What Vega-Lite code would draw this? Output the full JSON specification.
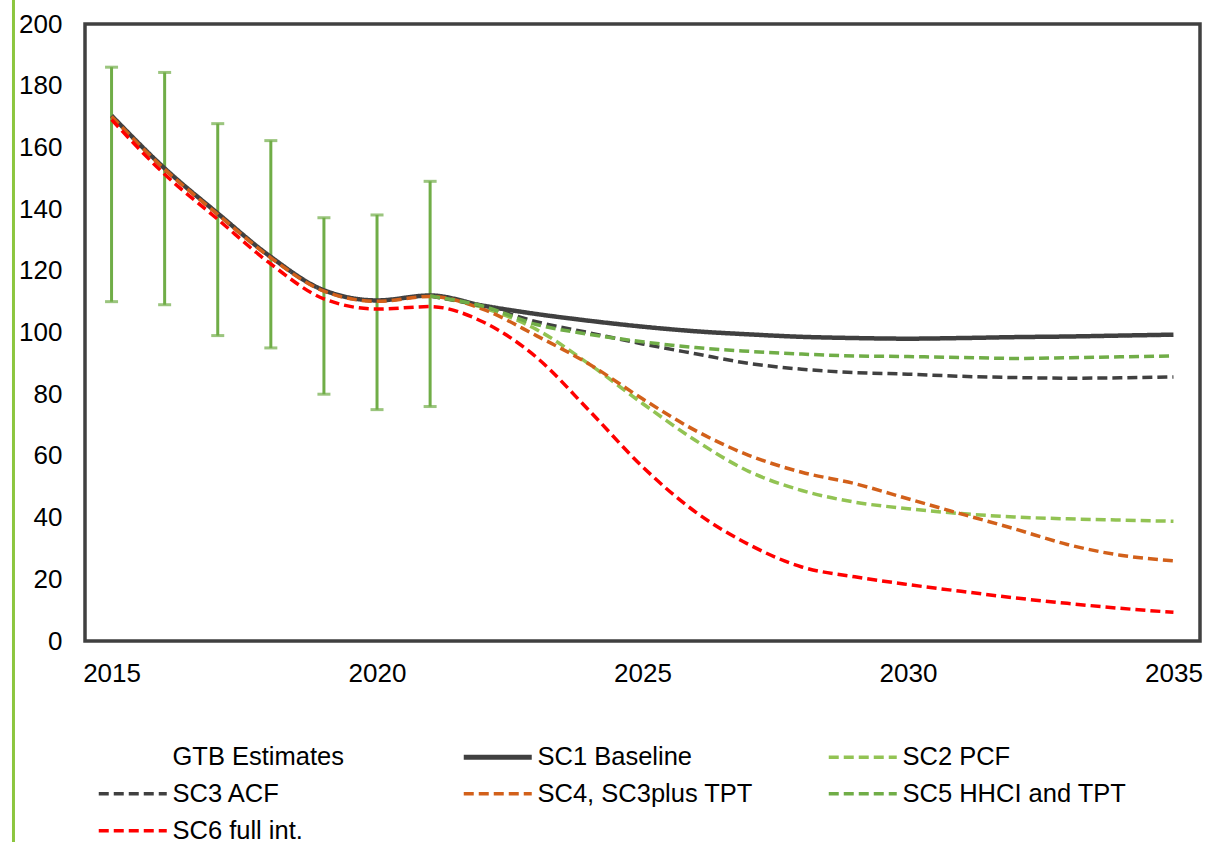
{
  "$schema": "https://vega.github.io/schema/vega-lite/v6.json",
  "width": 1115,
  "height": 617,
  "autosize": {"type": "none"},
  "padding": {"left": 85, "top": 24, "right": 8, "bottom": 201},
  "background": "white",
  "config": {
    "view": {"stroke": "#404040", "strokeWidth": 3.5},
    "font": "Liberation Sans",
    "axis": {"domain": false, "grid": false, "ticks": false, "tickSize": 0, "labelColor": "#000000", "labelFont": "Liberation Sans", "labelFontSize": 26}
  },
  "datasets": {
    "lines": [
      {"series": "SC1 Baseline", "year": 2015, "value": 170.3},
      {"series": "SC1 Baseline", "year": 2016, "value": 153.2},
      {"series": "SC1 Baseline", "year": 2017, "value": 138.6},
      {"series": "SC1 Baseline", "year": 2018, "value": 124.5},
      {"series": "SC1 Baseline", "year": 2019, "value": 113.7},
      {"series": "SC1 Baseline", "year": 2020, "value": 110.4},
      {"series": "SC1 Baseline", "year": 2021, "value": 112.0},
      {"series": "SC1 Baseline", "year": 2022, "value": 108.7},
      {"series": "SC1 Baseline", "year": 2023, "value": 106.0},
      {"series": "SC1 Baseline", "year": 2024, "value": 103.8},
      {"series": "SC1 Baseline", "year": 2025, "value": 101.9},
      {"series": "SC1 Baseline", "year": 2026, "value": 100.4},
      {"series": "SC1 Baseline", "year": 2027, "value": 99.4},
      {"series": "SC1 Baseline", "year": 2028, "value": 98.6},
      {"series": "SC1 Baseline", "year": 2029, "value": 98.2},
      {"series": "SC1 Baseline", "year": 2030, "value": 98.0},
      {"series": "SC1 Baseline", "year": 2031, "value": 98.2},
      {"series": "SC1 Baseline", "year": 2032, "value": 98.5},
      {"series": "SC1 Baseline", "year": 2033, "value": 98.7},
      {"series": "SC1 Baseline", "year": 2034, "value": 99.0},
      {"series": "SC1 Baseline", "year": 2035, "value": 99.3},
      {"series": "SC2 PCF", "year": 2021, "value": 111.8},
      {"series": "SC2 PCF", "year": 2022, "value": 108.0},
      {"series": "SC2 PCF", "year": 2023, "value": 101.0},
      {"series": "SC2 PCF", "year": 2024, "value": 89.7},
      {"series": "SC2 PCF", "year": 2025, "value": 77.0},
      {"series": "SC2 PCF", "year": 2026, "value": 65.0},
      {"series": "SC2 PCF", "year": 2027, "value": 55.0},
      {"series": "SC2 PCF", "year": 2028, "value": 48.8},
      {"series": "SC2 PCF", "year": 2029, "value": 45.0},
      {"series": "SC2 PCF", "year": 2030, "value": 42.9},
      {"series": "SC2 PCF", "year": 2031, "value": 41.3},
      {"series": "SC2 PCF", "year": 2032, "value": 40.2},
      {"series": "SC2 PCF", "year": 2033, "value": 39.6},
      {"series": "SC2 PCF", "year": 2034, "value": 39.2},
      {"series": "SC2 PCF", "year": 2035, "value": 38.8},
      {"series": "SC3 ACF", "year": 2021, "value": 111.8},
      {"series": "SC3 ACF", "year": 2022, "value": 108.5},
      {"series": "SC3 ACF", "year": 2023, "value": 103.5},
      {"series": "SC3 ACF", "year": 2024, "value": 99.9},
      {"series": "SC3 ACF", "year": 2025, "value": 96.3},
      {"series": "SC3 ACF", "year": 2026, "value": 93.1},
      {"series": "SC3 ACF", "year": 2027, "value": 90.0},
      {"series": "SC3 ACF", "year": 2028, "value": 88.1},
      {"series": "SC3 ACF", "year": 2029, "value": 87.0},
      {"series": "SC3 ACF", "year": 2030, "value": 86.5},
      {"series": "SC3 ACF", "year": 2031, "value": 85.8},
      {"series": "SC3 ACF", "year": 2032, "value": 85.4},
      {"series": "SC3 ACF", "year": 2033, "value": 85.2},
      {"series": "SC3 ACF", "year": 2034, "value": 85.3},
      {"series": "SC3 ACF", "year": 2035, "value": 85.6},
      {"series": "SC4, SC3plus TPT", "year": 2015, "value": 170.0},
      {"series": "SC4, SC3plus TPT", "year": 2016, "value": 152.9},
      {"series": "SC4, SC3plus TPT", "year": 2017, "value": 138.3},
      {"series": "SC4, SC3plus TPT", "year": 2018, "value": 124.2},
      {"series": "SC4, SC3plus TPT", "year": 2019, "value": 113.4},
      {"series": "SC4, SC3plus TPT", "year": 2020, "value": 110.1},
      {"series": "SC4, SC3plus TPT", "year": 2021, "value": 111.7},
      {"series": "SC4, SC3plus TPT", "year": 2022, "value": 107.5},
      {"series": "SC4, SC3plus TPT", "year": 2023, "value": 99.0},
      {"series": "SC4, SC3plus TPT", "year": 2024, "value": 89.7},
      {"series": "SC4, SC3plus TPT", "year": 2025, "value": 78.5},
      {"series": "SC4, SC3plus TPT", "year": 2026, "value": 68.2},
      {"series": "SC4, SC3plus TPT", "year": 2027, "value": 60.2},
      {"series": "SC4, SC3plus TPT", "year": 2028, "value": 54.7},
      {"series": "SC4, SC3plus TPT", "year": 2029, "value": 51.0},
      {"series": "SC4, SC3plus TPT", "year": 2030, "value": 46.1},
      {"series": "SC4, SC3plus TPT", "year": 2031, "value": 41.2},
      {"series": "SC4, SC3plus TPT", "year": 2032, "value": 36.4},
      {"series": "SC4, SC3plus TPT", "year": 2033, "value": 31.3},
      {"series": "SC4, SC3plus TPT", "year": 2034, "value": 27.8},
      {"series": "SC4, SC3plus TPT", "year": 2035, "value": 26.0},
      {"series": "SC5 HHCI and TPT", "year": 2021, "value": 111.8},
      {"series": "SC5 HHCI and TPT", "year": 2022, "value": 108.5},
      {"series": "SC5 HHCI and TPT", "year": 2023, "value": 102.6},
      {"series": "SC5 HHCI and TPT", "year": 2024, "value": 99.4},
      {"series": "SC5 HHCI and TPT", "year": 2025, "value": 97.0},
      {"series": "SC5 HHCI and TPT", "year": 2026, "value": 95.1},
      {"series": "SC5 HHCI and TPT", "year": 2027, "value": 93.9},
      {"series": "SC5 HHCI and TPT", "year": 2028, "value": 93.0},
      {"series": "SC5 HHCI and TPT", "year": 2029, "value": 92.4},
      {"series": "SC5 HHCI and TPT", "year": 2030, "value": 92.2},
      {"series": "SC5 HHCI and TPT", "year": 2031, "value": 91.9},
      {"series": "SC5 HHCI and TPT", "year": 2032, "value": 91.6},
      {"series": "SC5 HHCI and TPT", "year": 2033, "value": 91.8},
      {"series": "SC5 HHCI and TPT", "year": 2034, "value": 92.1},
      {"series": "SC5 HHCI and TPT", "year": 2035, "value": 92.4},
      {"series": "SC6 full int.", "year": 2015, "value": 169.0},
      {"series": "SC6 full int.", "year": 2016, "value": 151.3},
      {"series": "SC6 full int.", "year": 2017, "value": 136.7},
      {"series": "SC6 full int.", "year": 2018, "value": 122.2},
      {"series": "SC6 full int.", "year": 2019, "value": 110.9},
      {"series": "SC6 full int.", "year": 2020, "value": 107.6},
      {"series": "SC6 full int.", "year": 2021, "value": 108.4},
      {"series": "SC6 full int.", "year": 2022, "value": 103.4},
      {"series": "SC6 full int.", "year": 2023, "value": 92.0},
      {"series": "SC6 full int.", "year": 2024, "value": 74.6},
      {"series": "SC6 full int.", "year": 2025, "value": 56.5},
      {"series": "SC6 full int.", "year": 2026, "value": 41.8},
      {"series": "SC6 full int.", "year": 2027, "value": 31.3},
      {"series": "SC6 full int.", "year": 2028, "value": 24.0},
      {"series": "SC6 full int.", "year": 2029, "value": 20.8},
      {"series": "SC6 full int.", "year": 2030, "value": 18.3},
      {"series": "SC6 full int.", "year": 2031, "value": 16.1},
      {"series": "SC6 full int.", "year": 2032, "value": 14.0},
      {"series": "SC6 full int.", "year": 2033, "value": 12.2},
      {"series": "SC6 full int.", "year": 2034, "value": 10.6},
      {"series": "SC6 full int.", "year": 2035, "value": 9.3}
    ],
    "gtb": [
      {"year": 2015, "low": 110, "high": 186},
      {"year": 2016, "low": 109, "high": 184.3},
      {"year": 2017, "low": 99, "high": 167.7},
      {"year": 2018, "low": 95, "high": 162.2},
      {"year": 2019, "low": 80, "high": 137.2},
      {"year": 2020, "low": 75, "high": 138.1},
      {"year": 2021, "low": 76, "high": 149}
    ],
    "border": [{"edge": "page"}]
  },
  "layer": [
    {
      "data": {"name": "border"},
      "mark": {"type": "rule", "color": "#8CC63F", "strokeWidth": 3, "clip": false},
      "encoding": {
        "x": {"datum": 2013.153, "type": "quantitative", "scale": {"domain": [2014.5, 2035.5], "nice": false, "zero": false}, "title": null},
        "y": {"datum": 212, "type": "quantitative", "scale": {"domain": [0, 200], "nice": false}, "title": null},
        "y2": {"datum": -70}
      }
    },
    {
      "data": {"name": "gtb"},
      "mark": {"type": "errorbar", "color": "#70AD47", "ticks": {"size": 13, "thickness": 3, "color": "#70AD47"}, "rule": {"strokeWidth": 3, "color": "#70AD47"}},
      "encoding": {
        "x": {"field": "year", "type": "quantitative", "scale": {"domain": [2014.5, 2035.5], "nice": false, "zero": false}, "title": null},
        "y": {"field": "low", "type": "quantitative", "scale": {"domain": [0, 200], "nice": false}, "title": null},
        "y2": {"field": "high"}
      }
    },
    {
      "data": {"name": "lines"},
      "mark": {"type": "line", "interpolate": "monotone", "strokeCap": "butt"},
      "encoding": {
        "x": {"field": "year", "type": "quantitative", "scale": {"domain": [2014.5, 2035.5], "nice": false, "zero": false}, "title": null,
              "axis": {"values": [2015, 2020, 2025, 2030, 2035], "format": "d", "labelPadding": 19, "labelFlush": false, "title": null}},
        "y": {"field": "value", "type": "quantitative", "scale": {"domain": [0, 200], "nice": false}, "title": null,
              "axis": {"values": [0, 20, 40, 60, 80, 100, 120, 140, 160, 180, 200], "labelPadding": 23, "title": null}},
        "color": {
          "field": "series", "type": "nominal",
          "scale": {
            "domain": ["GTB Estimates", "SC1 Baseline", "SC2 PCF", "SC3 ACF", "SC4, SC3plus TPT", "SC5 HHCI and TPT", "SC6 full int."],
            "range": ["#ffffff", "#404040", "#92C353", "#404040", "#D2601A", "#70AD47", "#FF0000"]
          },
          "legend": {
            "title": null, "orient": "none", "legendX": 35, "legendY": 720, "columns": 3, "direction": "horizontal", "gridAlign": "all",
            "columnPadding": 56, "rowPadding": 10, "padding": 0,
            "symbolType": "stroke", "symbolSize": 4624, "symbolStrokeWidth": 3.5,
            "labelOffset": 27, "labelFontSize": 25.5, "labelFont": "Liberation Sans", "labelColor": "#000000", "labelLimit": 400,
            "encode": {"symbols": {"update": {"strokeWidth": {"signal": "datum.label === 'SC1 Baseline' ? 5 : 3.5"}}}}
          }
        },
        "strokeDash": {
          "field": "series", "type": "nominal",
          "scale": {
            "domain": ["GTB Estimates", "SC1 Baseline", "SC2 PCF", "SC3 ACF", "SC4, SC3plus TPT", "SC5 HHCI and TPT", "SC6 full int."],
            "range": [[0, 1000], [1, 0], [10, 5], [10, 5], [10, 5], [10, 5], [10, 5]]
          },
          "legend": null
        },
        "strokeWidth": {"condition": {"test": "datum.series === 'SC1 Baseline'", "value": 4.5}, "value": 3.5},
        "order": {"field": "year"}
      }
    }
  ]
}
